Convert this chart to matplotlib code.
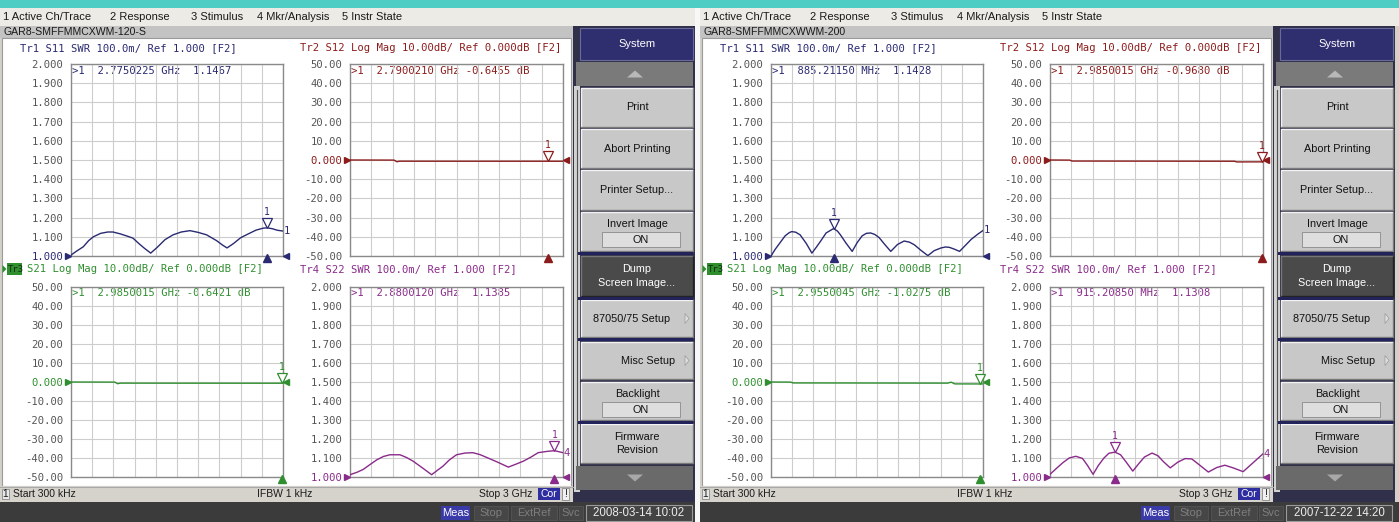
import numpy as np
import matplotlib
matplotlib.use("Agg")
import matplotlib.pyplot as plt
from matplotlib.patches import Rectangle, Polygon
import matplotlib.transforms as mtransforms

W, H = 1399, 522
F_START, F_STOP = 0.0003, 3.0          # sweep, GHz
MONO = "DejaVu Sans Mono"
SANS = "Liberation Sans"

# ---------------- instrument A : GAR8-SMFFMMCXWM-120-S ----------------
a_s11_f = [0.0003, 0.09, 0.174, 0.25, 0.316, 0.42, 0.52, 0.594, 0.70, 0.80, 0.877, 0.96, 1.04, 1.128,
           1.22, 1.33, 1.443, 1.56, 1.684, 1.80, 1.92, 2.06, 2.14, 2.208, 2.30, 2.40, 2.491, 2.62,
           2.72, 2.775, 2.85, 2.92, 3.0]
a_s11_v = [1.005, 1.028, 1.048, 1.080, 1.100, 1.118, 1.125, 1.125, 1.115, 1.103, 1.093, 1.065, 1.040, 1.015,
           1.045, 1.085, 1.110, 1.125, 1.132, 1.123, 1.110, 1.080, 1.058, 1.042, 1.065, 1.095, 1.112, 1.135,
           1.145, 1.1467, 1.142, 1.134, 1.130]
a_s12_f = [0.0003, 0.62, 0.66, 0.70, 1.5, 2.7900210, 3.0]
a_s12_v = [0.0, -0.05, -0.9, -0.62, -0.64, -0.6455, -0.65]
a_s21_f = [0.0003, 0.62, 0.66, 0.70, 1.5, 2.9850015, 3.0]
a_s21_v = [0.0, -0.05, -0.9, -0.60, -0.62, -0.6421, -0.64]
a_s22_f = [0.0003, 0.10, 0.187, 0.28, 0.376, 0.47, 0.563, 0.704, 0.80, 0.89, 1.02, 1.15, 1.23, 1.31,
           1.40, 1.50, 1.62, 1.73, 1.83, 1.925, 2.08, 2.23, 2.34, 2.44, 2.55, 2.65, 2.78, 2.8800120, 3.0]
a_s22_v = [1.012, 1.025, 1.040, 1.065, 1.090, 1.108, 1.117, 1.117, 1.102, 1.083, 1.048, 1.012, 1.035, 1.057,
           1.090, 1.117, 1.126, 1.128, 1.118, 1.103, 1.078, 1.052, 1.068, 1.083, 1.105, 1.128, 1.135, 1.1385, 1.128]
a_marker_f = [2.7750225, 2.7900210, 2.9850015, 2.8800120]
a_marker_v = [1.1467, -0.6455, -0.6421, 1.1385]
a_readouts = [">1  2.7750225 GHz  1.1467", ">1  2.7900210 GHz -0.6455 dB",
              ">1  2.9850015 GHz -0.6421 dB", ">1  2.8800120 GHz  1.1385"]

# ---------------- instrument B : GAR8-SMFFMMCXWWM-200 ----------------
b_s11_f = [0.0003, 0.06, 0.128, 0.20, 0.26, 0.294, 0.35, 0.413, 0.50, 0.579, 0.64, 0.698, 0.78, 0.8852115,
           0.94, 0.983, 1.06, 1.149, 1.22, 1.29, 1.35, 1.41, 1.47, 1.53, 1.61, 1.695, 1.79, 1.884, 1.96,
           2.03, 2.12, 2.22, 2.31, 2.407, 2.47, 2.525, 2.60, 2.668, 2.75, 2.834, 2.92, 3.0]
b_s11_v = [1.000, 1.035, 1.069, 1.105, 1.122, 1.127, 1.124, 1.110, 1.065, 1.015, 1.045, 1.075, 1.120, 1.1428,
           1.130, 1.110, 1.068, 1.024, 1.070, 1.105, 1.118, 1.120, 1.112, 1.096, 1.060, 1.024, 1.060, 1.078, 1.072,
           1.058, 1.030, 1.002, 1.028, 1.042, 1.047, 1.045, 1.035, 1.024, 1.055, 1.087, 1.112, 1.133]
b_s12_f = [0.0003, 0.28, 0.31, 1.5, 2.60, 2.63, 2.9850015, 3.0]
b_s12_v = [0.0, -0.05, -0.55, -0.60, -0.65, -1.0, -0.968, -0.97]
b_s21_f = [0.0003, 0.28, 0.31, 1.5, 2.50, 2.55, 2.60, 2.9550045, 3.0]
b_s21_v = [0.0, -0.05, -0.50, -0.55, -0.60, -0.10, -1.0, -1.0275, -1.02]
b_s22_f = [0.0003, 0.09, 0.177, 0.27, 0.364, 0.457, 0.53, 0.607, 0.68, 0.76, 0.83, 0.9152085, 0.994, 1.08,
           1.166, 1.25, 1.33, 1.437, 1.52, 1.60, 1.694, 1.80, 1.904, 1.997, 2.11, 2.23, 2.35, 2.463, 2.58,
           2.72, 2.86, 3.0]
b_s22_v = [1.014, 1.045, 1.074, 1.100, 1.109, 1.098, 1.060, 1.014, 1.060, 1.100, 1.125, 1.1308, 1.117, 1.075,
           1.031, 1.070, 1.105, 1.126, 1.112, 1.080, 1.048, 1.078, 1.097, 1.095, 1.062, 1.026, 1.050, 1.062, 1.048,
           1.028, 1.075, 1.122]
b_marker_f = [0.8852115, 2.9850015, 2.9550045, 0.9152085]
b_marker_v = [1.1428, -0.9680, -1.0275, 1.1308]
b_readouts = [">1  885.21150 MHz  1.1428", ">1  2.9850015 GHz -0.9680 dB",
              ">1  2.9550045 GHz -1.0275 dB", ">1  915.20850 MHz  1.1308"]

# ---------------- shared labels ----------------
trace_headers = ["Tr1 S11 SWR 100.0m/ Ref 1.000 [F2]", "Tr2 S12 Log Mag 10.00dB/ Ref 0.000dB [F2]",
                 "S21 Log Mag 10.00dB/ Ref 0.000dB [F2]", "Tr4 S22 SWR 100.0m/ Ref 1.000 [F2]"]
trace_kinds = ["swr", "log", "log", "swr"]
trace_numbers = ["1", "2", "3", "4"]
trace_colors = ["#2a2a72", "#8c1c1c", "#2f8f2f", "#8a2a8a"]
swr_ticks = ["1.000", "1.100", "1.200", "1.300", "1.400", "1.500", "1.600", "1.700", "1.800", "1.900", "2.000"]
log_ticks = ["-50.00", "-40.00", "-30.00", "-20.00", "-10.00", "0.000", "10.00", "20.00", "30.00", "40.00", "50.00"]
menu_items = ["1 Active Ch/Trace", "2 Response", "3 Stimulus", "4 Mkr/Analysis", "5 Instr State"]
softkeys = ["Print", "Abort Printing", "Printer Setup...", "Invert Image", "Dump\nScreen Image...",
            "87050/75 Setup", "Misc Setup", "Backlight", "Firmware\nRevision"]

# ---------------- figure ----------------
fig = plt.figure(figsize=(W / 100, H / 100), dpi=100)
fig.patch.set_facecolor("#4ecdc4")
bg = fig.add_axes([0, 0, 1, 1])
bg.set_xlim(0, W)
bg.set_ylim(H, 0)
bg.axis("off")


def rect(x0, y0, x1, y1, fc, ec="none", lw=0.0, z=1):
    bg.add_patch(Rectangle((x0, y0), x1 - x0, y1 - y0, facecolor=fc, edgecolor=ec, linewidth=lw, zorder=z))


def txt(x, y, s, size=7.6, color="#1a1a1a", ha="left", va="center", family=MONO, z=5, **kw):
    bg.text(x, y, s, fontsize=size, color=color, ha=ha, va=va, family=family, zorder=z, **kw)


def button(x0, y0, x1, y1, fc="#c8c8c8", hi="#f2f2f2", lo="#7a7a7a", z=2):
    rect(x0, y0, x1, y1, fc, z=z)
    bg.plot([x0, x0, x1], [y1, y0, y0], color=hi, lw=1.0, zorder=z + 0.1, solid_capstyle="butt")
    bg.plot([x0, x1, x1], [y1, y1, y0], color=lo, lw=1.0, zorder=z + 0.1, solid_capstyle="butt")


def tri(cx, cy, w, h, up, color, z=3):
    if up:
        pts = [(cx - w / 2, cy + h / 2), (cx + w / 2, cy + h / 2), (cx, cy - h / 2)]
    else:
        pts = [(cx - w / 2, cy - h / 2), (cx + w / 2, cy - h / 2), (cx, cy + h / 2)]
    bg.add_patch(Polygon(pts, closed=True, facecolor=color, edgecolor="none", zorder=z))


def px_axes(x0, y0, x1, y1):
    return fig.add_axes([x0 / W, 1 - y1 / H, (x1 - x0) / W, (y1 - y0) / H])


def draw_trace(ax, f, v, kind, color, mf, mv, num):
    lo, hi = (1.0, 2.0) if kind == "swr" else (-50.0, 50.0)
    ref = 1.0 if kind == "swr" else 0.0
    ax.set_facecolor("none")
    ax.set_xlim(F_START, F_STOP)
    ax.set_ylim(lo, hi)
    ax.set_xticks(np.linspace(F_START, F_STOP, 11))
    ax.set_yticks(np.linspace(lo, hi, 11))
    labels = swr_ticks if kind == "swr" else log_ticks
    ax.set_yticklabels(labels, family=MONO, fontsize=7.6, color="#555555")
    ax.get_yticklabels()[labels.index("1.000" if kind == "swr" else "0.000")].set_color(color)
    ax.tick_params(axis="both", length=0)
    ax.tick_params(axis="x", labelbottom=False)
    ax.tick_params(axis="y", pad=5.5)
    ax.grid(True, color="#cdcdcd", lw=0.8)
    ax.set_axisbelow(True)
    for sp in ax.spines.values():
        sp.set_color("#8a8a8a")
        sp.set_linewidth(1.0)
    ax.plot(f, v, color=color, lw=1.0, zorder=3)

    def off(dx, dy):
        return mtransforms.offset_copy(ax.transData, fig=fig, x=dx, y=dy, units="points")

    # reference-level arrows on both edges
    ax.plot([F_START], [ref], marker=">", ms=4.5, color=color, clip_on=False, transform=off(-2.3, 0), zorder=4)
    ax.plot([F_STOP], [ref], marker="<", ms=4.5, color=color, clip_on=False, transform=off(2.3, 0), zorder=4)
    # stimulus position of the active marker
    ax.plot([mf], [lo], marker="^", ms=5.5, color=color, clip_on=False, transform=off(0, -1.5), zorder=4)
    # marker symbol on the trace
    ax.plot([mf], [mv], marker="v", ms=6.5, mfc="white", mec=color, mew=0.9, clip_on=False,
            transform=off(0, 3.6), zorder=5)
    ax.text(mf, mv, "1", color=color, fontsize=7, family=MONO, ha="center", va="center",
            transform=off(0, 11.5), zorder=5)
    if kind == "swr":
        ax.text(F_STOP, v[-1], num, color=color, fontsize=7.6, family=MONO, ha="left", va="center",
                transform=off(0.3, 0), zorder=5)


QUAD = [(71, 64, 283, 256), (350, 64, 563, 256), (71, 287, 283, 477), (350, 287, 563, 477)]
HEAD = [(20, 48), (300, 48), (27, 269), (300, 269)]
MENU_X = [3, 110, 191, 257, 342]


def draw_screen(ox, width, title, fs, vs, mfs, mvs, readouts, date):
    rect(ox, 8, ox + width, H, "#d4d0c8")
    # menu bar
    rect(ox, 8, ox + width, 26, "#ecebe6")
    for x, s in zip(MENU_X, menu_items):
        txt(ox + x, 17, s, size=8, family=SANS, color="#1a1a1a")
    # window title
    rect(ox, 26, ox + 573, 38, "#c3c3c3")
    txt(ox + 3, 32, title, size=7.6, family=SANS, color="#1a1a1a")
    # measurement area
    rect(ox + 2, 38, ox + 571, 486, "white", ec="#9a9a9a", lw=0.8)

    for i in range(4):
        x0, y0, x1, y1 = QUAD[i]
        ax = px_axes(ox + x0, y0, ox + x1, y1)
        draw_trace(ax, fs[i], vs[i], trace_kinds[i], trace_colors[i], mfs[i], mvs[i], trace_numbers[i])
        hx, hy = HEAD[i]
        txt(ox + hx, hy, trace_headers[i], color=trace_colors[i])
        txt(ox + x0 + 1, y0 + 6.5, readouts[i], color=trace_colors[i], z=6)
    # active trace tag
    tri(ox + 4.5, 269, 6, 5, True, trace_colors[2]) if False else None
    bg.add_patch(Polygon([(ox + 2.5, 265), (ox + 2.5, 273), (ox + 6.5, 269)], closed=True,
                         facecolor=trace_colors[2], edgecolor="none", zorder=6))
    rect(ox + 7, 263, ox + 22, 275, trace_colors[2], z=5)
    txt(ox + 7.8, 269, "Tr3", size=6.4, color="#0c2a0c", z=6)

    # status line
    rect(ox, 486, ox + 573, 502, "#d6d3cc")
    bg.plot([ox, ox + 573], [486.5, 486.5], color="#a8a8a8", lw=0.8, zorder=2)
    rect(ox + 2, 489, ox + 9, 499, "#e8e8e8", ec="#8a8a8a", lw=0.6, z=3)
    txt(ox + 5.5, 494, "1", size=7.2, family=SANS, ha="center", z=4)
    txt(ox + 13, 494, "Start 300 kHz", size=7.5, family=SANS)
    txt(ox + 257, 494, "IFBW 1 kHz", size=7.5, family=SANS)
    txt(ox + 532, 494, "Stop 3 GHz", size=7.5, family=SANS, ha="right")
    rect(ox + 538, 488, ox + 560, 500, "#2e2ea0", z=3)
    txt(ox + 549, 494, "Cor", size=7.5, family=SANS, ha="center", color="white", z=4)
    rect(ox + 562, 488, ox + 569, 500, "#f0f0f0", ec="#8a8a8a", lw=0.6, z=3)
    txt(ox + 565.5, 494, "!", size=7.5, family=SANS, ha="center", z=4)

    # bottom status band
    rect(ox, 502, ox + width, H, "#3b3b3b")
    rect(ox + 441, 506, ox + 470, 520, "#3a3aa8", z=3)
    txt(ox + 455.5, 513, "Meas", size=8, family=SANS, ha="center", color="white", z=4)
    for x0, x1, s in [(474, 508, "Stop"), (511, 557, "ExtRef"), (559, 583, "Svc")]:
        rect(ox + x0, 506, ox + x1, 520, "#464646", ec="#555555", lw=0.6, z=3)
        txt(ox + (x0 + x1) / 2, 513, s, size=8, family=SANS, ha="center", color="#7e7e7e", z=4)
    rect(ox + 586, 505, ox + 692, 521, "#444444", ec="#9a9a9a", lw=0.8, z=3)
    txt(ox + 639, 513, date, size=8.3, family=SANS, ha="center", color="#ececec", z=4)

    # softkey column
    rect(ox + 573, 26, ox + 695, 502, "#30304a")
    rect(ox + 574, 86, ox + 580, 492, "#d2d2d2", z=1.5)
    bg.plot([ox + 577, ox + 577], [90, 470], color="#505050", lw=0.8, zorder=1.6)
    rect(ox + 580, 28, ox + 693, 60, "#2f2f70", ec="#6a6a9a", lw=0.8, z=2)
    txt(ox + 637, 44, "System", size=8, family=SANS, ha="center", color="white")
    rect(ox + 576, 62, ox + 693, 86, "#7a7a7a", z=2)
    tri(ox + 635, 74, 16, 7, True, "#b8b8b8")
    keys_y = [(88, 127), (129, 168), (170, 210), (212, 251), (256, 296), (300, 337), (342, 379),
              (382, 420), (424, 463)]
    centers = [637, 637, 637, 637, 637, 632, 648, 637, 637]
    for (y0, y1), cx, s in zip(keys_y, centers, softkeys):
        if s.startswith("Dump"):
            button(ox + 581, y0, ox + 693, y1, fc="#4a4a4a", hi="#777777", lo="#222222")
            col = "white"
        else:
            button(ox + 581, y0, ox + 693, y1)
            col = "#111111"
        if s in ("Invert Image", "Backlight"):
            txt(ox + cx, y0 + 12, s, size=7.8, family=SANS, ha="center", color=col)
            rect(ox + 602, y0 + 20, ox + 680, y0 + 35, "#dedede", ec="#8a8a8a", lw=0.6, z=3)
            txt(ox + 641, y0 + 28, "ON", size=7.8, family=SANS, ha="center", color=col)
        else:
            txt(ox + cx, (y0 + y1) / 2, s, size=7.8, family=SANS, ha="center", color=col,
                linespacing=1.45)
        if s in ("87050/75 Setup", "Misc Setup"):
            bg.add_patch(Polygon([(ox + 685, (y0 + y1) / 2 - 5), (ox + 685, (y0 + y1) / 2 + 5),
                                  (ox + 689, (y0 + y1) / 2)], closed=True, facecolor="#e0e0e0",
                                 edgecolor="#9a9a9a", lw=0.5, zorder=3))
    for y0, y1 in [(252, 255), (297, 299.5), (338, 341), (421, 423.5)]:
        rect(ox + 578, y0, ox + 693, y1, "#23235c", z=2.5)
    rect(ox + 576, 466, ox + 693, 490, "#6a6a6a", z=2)
    tri(ox + 635, 478, 16, 7, False, "#a8a8a8")


draw_screen(0, 695, "GAR8-SMFFMMCXWM-120-S",
            [a_s11_f, a_s12_f, a_s21_f, a_s22_f], [a_s11_v, a_s12_v, a_s21_v, a_s22_v],
            a_marker_f, a_marker_v, a_readouts, "2008-03-14 10:02")
rect(695, 8, 700, H, "#f7f7f7")
draw_screen(700, 699, "GAR8-SMFFMMCXWWM-200",
            [b_s11_f, b_s12_f, b_s21_f, b_s22_f], [b_s11_v, b_s12_v, b_s21_v, b_s22_v],
            b_marker_f, b_marker_v, b_readouts, "2007-12-22 14:20")

fig.savefig("out.png", dpi=100, facecolor=fig.get_facecolor())
